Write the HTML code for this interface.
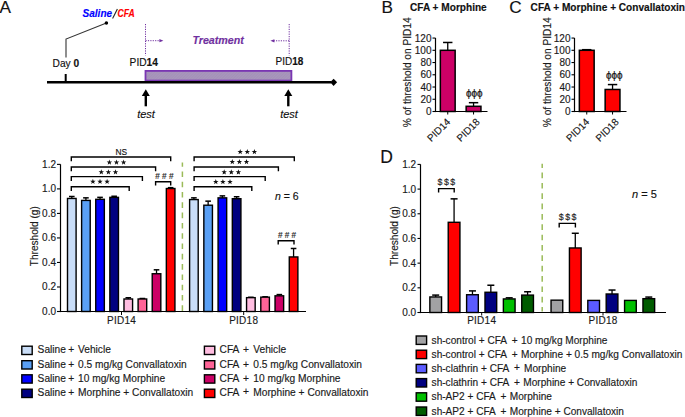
<!DOCTYPE html><html><head><meta charset="utf-8"><style>html,body{margin:0;padding:0;background:#fff;}svg{display:block;}</style></head><body><svg width="685" height="417" viewBox="0 0 685 417" font-family='"Liberation Sans", sans-serif'>
<defs><pattern id="hatch" width="2" height="2" patternUnits="userSpaceOnUse" patternTransform="rotate(45)"><rect width="2" height="2" fill="#a896bc"/><line x1="0" y1="0" x2="0" y2="2" stroke="#9d8bb3" stroke-width="0.8"/></pattern></defs>
<rect width="685" height="417" fill="#fff"/>
<text x="-0.6" y="12.9" font-size="17.2" text-anchor="start" font-weight="normal" font-style="normal" fill="#111" stroke="#111" stroke-width="0.15" >A</text>
<text x="82.6" y="16.9" font-size="10" font-weight="bold" font-style="italic" fill="#0000ff" stroke="#0000ff" stroke-width="0.15">Saline</text>
<line x1="112.6" y1="18.6" x2="117.4" y2="9.0" stroke="#222" stroke-width="1.1" />
<text x="117.6" y="16.9" font-size="10" font-weight="bold" font-style="italic" fill="#ff0000" textLength="17.2" lengthAdjust="spacingAndGlyphs" stroke="#ff0000" stroke-width="0.15">CFA</text>
<polyline points="66,57.6 66,39 106.4,23" fill="none" stroke="#333" stroke-width="1.1"/>
<circle cx="106.4" cy="23" r="1.75" fill="#000"/>
<text x="52.6" y="66.9" font-size="10.2" fill="#111" stroke="#111" stroke-width="0.15">Day <tspan font-weight="bold">0</tspan></text>
<rect x="145.5" y="70.9" width="145.9" height="9.7" fill="url(#hatch)" stroke="#7a36b2" stroke-width="1.8"/>
<line x1="47" y1="82.3" x2="331" y2="82.3" stroke="#000" stroke-width="2.4" />
<polygon points="330.1,82.3 333.6,78.7 337.1,82.3 333.6,85.9" fill="#000"/>
<line x1="65.7" y1="74" x2="65.7" y2="82" stroke="#000" stroke-width="2" />
<line x1="145.5" y1="24" x2="145.5" y2="55.5" stroke="#7030a0" stroke-width="1" stroke-dasharray="1.2 1.2"/>
<line x1="289.2" y1="24" x2="289.2" y2="55.5" stroke="#7030a0" stroke-width="1" stroke-dasharray="1.2 1.2"/>
<line x1="145.5" y1="40.7" x2="160" y2="40.7" stroke="#7030a0" stroke-width="1" stroke-dasharray="1.2 1.2"/>
<polygon points="159.4,39.1 163.4,40.7 159.4,42.3" fill="#7030a0"/>
<line x1="289.2" y1="40.8" x2="274" y2="40.8" stroke="#7030a0" stroke-width="1" stroke-dasharray="1.2 1.2"/>
<polygon points="274.4,39.2 270.4,40.8 274.4,42.4" fill="#7030a0"/>
<text x="192.4" y="44" font-size="10.7" text-anchor="start" font-weight="bold" font-style="italic" fill="#7030a0" stroke="#7030a0" stroke-width="0.15" >Treatment</text>
<text x="129.6" y="65.6" font-size="10.2" fill="#111" stroke="#111" stroke-width="0.15">PID<tspan font-weight="bold">14</tspan></text>
<text x="275.6" y="65.3" font-size="10" fill="#111" stroke="#111" stroke-width="0.15">PID<tspan font-weight="bold">18</tspan></text>
<line x1="145.8" y1="95" x2="145.8" y2="106.3" stroke="#000" stroke-width="2.4" />
<polygon points="141.8,96 145.8,89.2 149.8,96" fill="#000"/>
<line x1="288.3" y1="95" x2="288.3" y2="106.3" stroke="#000" stroke-width="2.4" />
<polygon points="284.3,96 288.3,89.2 292.3,96" fill="#000"/>
<text x="146" y="117.6" font-size="11" text-anchor="middle" font-weight="normal" font-style="italic" fill="#111" stroke="#111" stroke-width="0.15" >test</text>
<text x="289" y="118" font-size="11" text-anchor="middle" font-weight="normal" font-style="italic" fill="#111" stroke="#111" stroke-width="0.15" >test</text>
<line x1="60.5" y1="164.3" x2="60.5" y2="312.1" stroke="#000" stroke-width="1.2" />
<line x1="57" y1="311.5" x2="306" y2="311.5" stroke="#000" stroke-width="1.2" />
<line x1="57" y1="311.5" x2="60.5" y2="311.5" stroke="#000" stroke-width="1.1" />
<text x="56" y="315.0" font-size="10" text-anchor="end" font-weight="normal" font-style="normal" fill="#1a1a1a" stroke="#1a1a1a" stroke-width="0.15" >0.0</text>
<line x1="57" y1="286.98" x2="60.5" y2="286.98" stroke="#000" stroke-width="1.1" />
<text x="56" y="290.48" font-size="10" text-anchor="end" font-weight="normal" font-style="normal" fill="#1a1a1a" stroke="#1a1a1a" stroke-width="0.15" >0.2</text>
<line x1="57" y1="262.46" x2="60.5" y2="262.46" stroke="#000" stroke-width="1.1" />
<text x="56" y="265.96" font-size="10" text-anchor="end" font-weight="normal" font-style="normal" fill="#1a1a1a" stroke="#1a1a1a" stroke-width="0.15" >0.4</text>
<line x1="57" y1="237.94" x2="60.5" y2="237.94" stroke="#000" stroke-width="1.1" />
<text x="56" y="241.44" font-size="10" text-anchor="end" font-weight="normal" font-style="normal" fill="#1a1a1a" stroke="#1a1a1a" stroke-width="0.15" >0.6</text>
<line x1="57" y1="213.42000000000002" x2="60.5" y2="213.42000000000002" stroke="#000" stroke-width="1.1" />
<text x="56" y="216.92000000000002" font-size="10" text-anchor="end" font-weight="normal" font-style="normal" fill="#1a1a1a" stroke="#1a1a1a" stroke-width="0.15" >0.8</text>
<line x1="57" y1="188.9" x2="60.5" y2="188.9" stroke="#000" stroke-width="1.1" />
<text x="56" y="192.4" font-size="10" text-anchor="end" font-weight="normal" font-style="normal" fill="#1a1a1a" stroke="#1a1a1a" stroke-width="0.15" >1.0</text>
<line x1="57" y1="164.38" x2="60.5" y2="164.38" stroke="#000" stroke-width="1.1" />
<text x="56" y="167.88" font-size="10" text-anchor="end" font-weight="normal" font-style="normal" fill="#1a1a1a" stroke="#1a1a1a" stroke-width="0.15" >1.2</text>
<text transform="translate(37.7,236.2) rotate(-90)" font-size="10.1" text-anchor="middle" fill="#1a1a1a" stroke="#1a1a1a" stroke-width="0.15">Threshold (g)</text>
<line x1="121.5" y1="311.5" x2="121.5" y2="315" stroke="#000" stroke-width="1" />
<line x1="243.7" y1="311.5" x2="243.7" y2="315" stroke="#000" stroke-width="1" />
<text x="121.5" y="323.5" font-size="10" text-anchor="middle" font-weight="normal" font-style="normal" fill="#1a1a1a" stroke="#1a1a1a" stroke-width="0.15" letter-spacing="0.25">PID14</text>
<text x="243.7" y="323.5" font-size="10" text-anchor="middle" font-weight="normal" font-style="normal" fill="#1a1a1a" stroke="#1a1a1a" stroke-width="0.15" letter-spacing="0.25">PID18</text>
<line x1="71.80" y1="198.46" x2="71.80" y2="196.50" stroke="#000" stroke-width="1.3" />
<line x1="69.00" y1="196.50" x2="74.60" y2="196.50" stroke="#000" stroke-width="1.5" />
<rect x="67.50" y="198.46" width="8.60" height="113.04" fill="#c9ddf7" stroke="#000" stroke-width="1.4"/>
<line x1="85.92" y1="200.42" x2="85.92" y2="197.85" stroke="#000" stroke-width="1.3" />
<line x1="83.12" y1="197.85" x2="88.72" y2="197.85" stroke="#000" stroke-width="1.5" />
<rect x="81.62" y="200.42" width="8.60" height="111.08" fill="#5aa0f5" stroke="#000" stroke-width="1.4"/>
<line x1="100.04" y1="199.32" x2="100.04" y2="197.36" stroke="#000" stroke-width="1.3" />
<line x1="97.24" y1="197.36" x2="102.84" y2="197.36" stroke="#000" stroke-width="1.5" />
<rect x="95.74" y="199.32" width="8.60" height="112.18" fill="#0000ff" stroke="#000" stroke-width="1.4"/>
<line x1="114.16" y1="197.36" x2="114.16" y2="196.26" stroke="#000" stroke-width="1.3" />
<line x1="111.36" y1="196.26" x2="116.96" y2="196.26" stroke="#000" stroke-width="1.5" />
<rect x="109.86" y="197.36" width="8.60" height="114.14" fill="#000080" stroke="#000" stroke-width="1.4"/>
<line x1="128.28" y1="298.99" x2="128.28" y2="297.77" stroke="#000" stroke-width="1.3" />
<line x1="125.48" y1="297.77" x2="131.08" y2="297.77" stroke="#000" stroke-width="1.5" />
<rect x="123.98" y="298.99" width="8.60" height="12.51" fill="#ffbde0" stroke="#000" stroke-width="1.4"/>
<line x1="142.40" y1="298.99" x2="142.40" y2="298.50" stroke="#000" stroke-width="1.3" />
<line x1="139.60" y1="298.50" x2="145.20" y2="298.50" stroke="#000" stroke-width="1.5" />
<rect x="138.10" y="298.99" width="8.60" height="12.51" fill="#ff6497" stroke="#000" stroke-width="1.4"/>
<line x1="156.52" y1="273.74" x2="156.52" y2="269.82" stroke="#000" stroke-width="1.3" />
<line x1="153.72" y1="269.82" x2="159.32" y2="269.82" stroke="#000" stroke-width="1.5" />
<rect x="152.22" y="273.74" width="8.60" height="37.76" fill="#cc0066" stroke="#000" stroke-width="1.4"/>
<line x1="170.64" y1="188.53" x2="170.64" y2="187.67" stroke="#000" stroke-width="1.3" />
<line x1="167.84" y1="187.67" x2="173.44" y2="187.67" stroke="#000" stroke-width="1.5" />
<rect x="166.34" y="188.53" width="8.60" height="122.97" fill="#ff0000" stroke="#000" stroke-width="1.4"/>
<line x1="193.90" y1="199.57" x2="193.90" y2="197.85" stroke="#000" stroke-width="1.3" />
<line x1="191.10" y1="197.85" x2="196.70" y2="197.85" stroke="#000" stroke-width="1.5" />
<rect x="189.60" y="199.57" width="8.60" height="111.93" fill="#c9ddf7" stroke="#000" stroke-width="1.4"/>
<line x1="208.14" y1="205.21" x2="208.14" y2="201.16" stroke="#000" stroke-width="1.3" />
<line x1="205.34" y1="201.16" x2="210.94" y2="201.16" stroke="#000" stroke-width="1.5" />
<rect x="203.84" y="205.21" width="8.60" height="106.29" fill="#5aa0f5" stroke="#000" stroke-width="1.4"/>
<line x1="222.38" y1="197.85" x2="222.38" y2="195.89" stroke="#000" stroke-width="1.3" />
<line x1="219.58" y1="195.89" x2="225.18" y2="195.89" stroke="#000" stroke-width="1.5" />
<rect x="218.08" y="197.85" width="8.60" height="113.65" fill="#0000ff" stroke="#000" stroke-width="1.4"/>
<line x1="236.62" y1="198.71" x2="236.62" y2="196.75" stroke="#000" stroke-width="1.3" />
<line x1="233.82" y1="196.75" x2="239.42" y2="196.75" stroke="#000" stroke-width="1.5" />
<rect x="232.32" y="198.71" width="8.60" height="112.79" fill="#000080" stroke="#000" stroke-width="1.4"/>
<line x1="250.86" y1="297.65" x2="250.86" y2="297.28" stroke="#000" stroke-width="1.3" />
<line x1="248.06" y1="297.28" x2="253.66" y2="297.28" stroke="#000" stroke-width="1.5" />
<rect x="246.56" y="297.65" width="8.60" height="13.85" fill="#ffbde0" stroke="#000" stroke-width="1.4"/>
<line x1="265.10" y1="297.16" x2="265.10" y2="296.79" stroke="#000" stroke-width="1.3" />
<line x1="262.30" y1="296.79" x2="267.90" y2="296.79" stroke="#000" stroke-width="1.5" />
<rect x="260.80" y="297.16" width="8.60" height="14.34" fill="#ff6497" stroke="#000" stroke-width="1.4"/>
<line x1="279.34" y1="295.81" x2="279.34" y2="294.58" stroke="#000" stroke-width="1.3" />
<line x1="276.54" y1="294.58" x2="282.14" y2="294.58" stroke="#000" stroke-width="1.5" />
<rect x="275.04" y="295.81" width="8.60" height="15.69" fill="#cc0066" stroke="#000" stroke-width="1.4"/>
<line x1="293.58" y1="256.94" x2="293.58" y2="248.48" stroke="#000" stroke-width="1.3" />
<line x1="290.78" y1="248.48" x2="296.38" y2="248.48" stroke="#000" stroke-width="1.5" />
<rect x="289.28" y="256.94" width="8.60" height="54.56" fill="#ff0000" stroke="#000" stroke-width="1.4"/>
<line x1="182.4" y1="162.4" x2="182.4" y2="311.0" stroke="#9bbb59" stroke-width="1.5" stroke-dasharray="5.6 4.7" stroke-dashoffset="1.3"/>
<polyline points="71.30,161.30 71.30,157.00 170.70,157.00 170.70,161.30" fill="none" stroke="#000" stroke-width="1.4"/>
<polyline points="71.30,171.30 71.30,167.00 155.60,167.00 155.60,171.30" fill="none" stroke="#000" stroke-width="1.4"/>
<polyline points="71.30,180.90 71.30,176.60 142.40,176.60 142.40,180.90" fill="none" stroke="#000" stroke-width="1.4"/>
<polyline points="71.30,191.00 71.30,186.70 129.20,186.70 129.20,191.00" fill="none" stroke="#000" stroke-width="1.4"/>
<polyline points="194.10,161.30 194.10,157.00 294.30,157.00 294.30,161.30" fill="none" stroke="#000" stroke-width="1.4"/>
<polyline points="194.10,171.30 194.10,167.00 278.40,167.00 278.40,171.30" fill="none" stroke="#000" stroke-width="1.4"/>
<polyline points="194.10,180.90 194.10,176.60 265.20,176.60 265.20,180.90" fill="none" stroke="#000" stroke-width="1.4"/>
<polyline points="194.10,191.00 194.10,186.70 251.80,186.70 251.80,191.00" fill="none" stroke="#000" stroke-width="1.4"/>
<text x="121.2" y="154.5" font-size="9.2" text-anchor="middle" font-weight="normal" font-style="normal" fill="#111" stroke="#111" stroke-width="0.15" textLength="11.6" lengthAdjust="spacingAndGlyphs">NS</text>
<polygon points="109.40,159.55 110.10,161.43 112.11,161.52 110.54,162.77 111.08,164.71 109.40,163.60 107.72,164.71 108.26,162.77 106.69,161.52 108.70,161.43" fill="#111"/>
<polygon points="116.50,159.55 117.20,161.43 119.21,161.52 117.64,162.77 118.18,164.71 116.50,163.60 114.82,164.71 115.36,162.77 113.79,161.52 115.80,161.43" fill="#111"/>
<polygon points="123.60,159.55 124.30,161.43 126.31,161.52 124.74,162.77 125.28,164.71 123.60,163.60 121.92,164.71 122.46,162.77 120.89,161.52 122.90,161.43" fill="#111"/>
<polygon points="101.30,169.25 102.00,171.13 104.01,171.22 102.44,172.47 102.98,174.41 101.30,173.30 99.62,174.41 100.16,172.47 98.59,171.22 100.60,171.13" fill="#111"/>
<polygon points="108.40,169.25 109.10,171.13 111.11,171.22 109.54,172.47 110.08,174.41 108.40,173.30 106.72,174.41 107.26,172.47 105.69,171.22 107.70,171.13" fill="#111"/>
<polygon points="115.50,169.25 116.20,171.13 118.21,171.22 116.64,172.47 117.18,174.41 115.50,173.30 113.82,174.41 114.36,172.47 112.79,171.22 114.80,171.13" fill="#111"/>
<polygon points="92.90,178.75 93.60,180.63 95.61,180.72 94.04,181.97 94.58,183.91 92.90,182.80 91.22,183.91 91.76,181.97 90.19,180.72 92.20,180.63" fill="#111"/>
<polygon points="100.00,178.75 100.70,180.63 102.71,180.72 101.14,181.97 101.68,183.91 100.00,182.80 98.32,183.91 98.86,181.97 97.29,180.72 99.30,180.63" fill="#111"/>
<polygon points="107.10,178.75 107.80,180.63 109.81,180.72 108.24,181.97 108.78,183.91 107.10,182.80 105.42,183.91 105.96,181.97 104.39,180.72 106.40,180.63" fill="#111"/>
<polygon points="240.20,149.05 240.90,150.93 242.91,151.02 241.34,152.27 241.88,154.21 240.20,153.10 238.52,154.21 239.06,152.27 237.49,151.02 239.50,150.93" fill="#111"/>
<polygon points="247.30,149.05 248.00,150.93 250.01,151.02 248.44,152.27 248.98,154.21 247.30,153.10 245.62,154.21 246.16,152.27 244.59,151.02 246.60,150.93" fill="#111"/>
<polygon points="254.40,149.05 255.10,150.93 257.11,151.02 255.54,152.27 256.08,154.21 254.40,153.10 252.72,154.21 253.26,152.27 251.69,151.02 253.70,150.93" fill="#111"/>
<polygon points="232.30,159.05 233.00,160.93 235.01,161.02 233.44,162.27 233.98,164.21 232.30,163.10 230.62,164.21 231.16,162.27 229.59,161.02 231.60,160.93" fill="#111"/>
<polygon points="239.40,159.05 240.10,160.93 242.11,161.02 240.54,162.27 241.08,164.21 239.40,163.10 237.72,164.21 238.26,162.27 236.69,161.02 238.70,160.93" fill="#111"/>
<polygon points="246.50,159.05 247.20,160.93 249.21,161.02 247.64,162.27 248.18,164.21 246.50,163.10 244.82,164.21 245.36,162.27 243.79,161.02 245.80,160.93" fill="#111"/>
<polygon points="224.20,169.35 224.90,171.23 226.91,171.32 225.34,172.57 225.88,174.51 224.20,173.40 222.52,174.51 223.06,172.57 221.49,171.32 223.50,171.23" fill="#111"/>
<polygon points="231.30,169.35 232.00,171.23 234.01,171.32 232.44,172.57 232.98,174.51 231.30,173.40 229.62,174.51 230.16,172.57 228.59,171.32 230.60,171.23" fill="#111"/>
<polygon points="238.40,169.35 239.10,171.23 241.11,171.32 239.54,172.57 240.08,174.51 238.40,173.40 236.72,174.51 237.26,172.57 235.69,171.32 237.70,171.23" fill="#111"/>
<polygon points="215.80,179.05 216.50,180.93 218.51,181.02 216.94,182.27 217.48,184.21 215.80,183.10 214.12,184.21 214.66,182.27 213.09,181.02 215.10,180.93" fill="#111"/>
<polygon points="222.90,179.05 223.60,180.93 225.61,181.02 224.04,182.27 224.58,184.21 222.90,183.10 221.22,184.21 221.76,182.27 220.19,181.02 222.20,180.93" fill="#111"/>
<polygon points="230.00,179.05 230.70,180.93 232.71,181.02 231.14,182.27 231.68,184.21 230.00,183.10 228.32,184.21 228.86,182.27 227.29,181.02 229.30,180.93" fill="#111"/>
<polyline points="155.60,185.60 155.60,181.80 170.70,181.80 170.70,185.60" fill="none" stroke="#000" stroke-width="1.4"/>
<text x="164.4" y="178.9" font-size="8.2" text-anchor="middle" font-weight="normal" font-style="normal" fill="#222" stroke="#222" stroke-width="0.15" ># # #</text>
<polyline points="278.20,244.50 278.20,240.70 294.00,240.70 294.00,244.50" fill="none" stroke="#000" stroke-width="1.4"/>
<text x="287.0" y="237.8" font-size="8.2" text-anchor="middle" font-weight="normal" font-style="normal" fill="#222" stroke="#222" stroke-width="0.15" ># # #</text>
<text x="275" y="199.8" font-size="10.5" fill="#111" stroke="#111" stroke-width="0.15"><tspan font-style="italic">n</tspan> = 6</text>
<rect x="21.80" y="346.20" width="10.40" height="8.30" fill="#c9ddf7" stroke="#000" stroke-width="1.4"/>
<text x="37.6" y="353.4" font-size="10.2" fill="#1a1a1a" stroke="#1a1a1a" stroke-width="0.15">Saline <tspan dx="-0.45">+</tspan> <tspan dx="0.9">Vehicle</tspan></text>
<rect x="204.40" y="346.20" width="10.40" height="8.30" fill="#ffbde0" stroke="#000" stroke-width="1.4"/>
<text x="219.6" y="353.4" font-size="10.2" fill="#1a1a1a" stroke="#1a1a1a" stroke-width="0.15">CFA <tspan dx="1.4">+</tspan> <tspan dx="1.4">Vehicle</tspan></text>
<rect x="21.80" y="360.70" width="10.40" height="8.30" fill="#5aa0f5" stroke="#000" stroke-width="1.4"/>
<text x="37.6" y="367.9" font-size="10.2" fill="#1a1a1a" stroke="#1a1a1a" stroke-width="0.15">Saline <tspan dx="-0.45">+</tspan> <tspan dx="0.9">0.5 mg/kg Convallatoxin</tspan></text>
<rect x="204.40" y="360.70" width="10.40" height="8.30" fill="#ff6497" stroke="#000" stroke-width="1.4"/>
<text x="219.6" y="367.9" font-size="10.2" fill="#1a1a1a" stroke="#1a1a1a" stroke-width="0.15">CFA <tspan dx="1.4">+</tspan> <tspan dx="1.4">0.5 mg/kg Convallatoxin</tspan></text>
<rect x="21.80" y="374.80" width="10.40" height="8.30" fill="#0000ff" stroke="#000" stroke-width="1.4"/>
<text x="37.6" y="382.0" font-size="10.2" fill="#1a1a1a" stroke="#1a1a1a" stroke-width="0.15">Saline <tspan dx="-0.45">+</tspan> <tspan dx="0.9">10 mg/kg Morphine</tspan></text>
<rect x="204.40" y="374.80" width="10.40" height="8.30" fill="#cc0066" stroke="#000" stroke-width="1.4"/>
<text x="219.6" y="382.0" font-size="10.2" fill="#1a1a1a" stroke="#1a1a1a" stroke-width="0.15">CFA <tspan dx="1.4">+</tspan> <tspan dx="1.4">10 mg/kg Morphine</tspan></text>
<rect x="21.80" y="389.20" width="10.40" height="8.30" fill="#000080" stroke="#000" stroke-width="1.4"/>
<text x="37.6" y="396.4" font-size="10.2" fill="#1a1a1a" stroke="#1a1a1a" stroke-width="0.15">Saline <tspan dx="-0.45">+</tspan> <tspan dx="0.9">Morphine + Convallatoxin</tspan></text>
<rect x="204.40" y="389.20" width="10.40" height="8.30" fill="#ff0000" stroke="#000" stroke-width="1.4"/>
<text x="219.6" y="396.4" font-size="10.2" fill="#1a1a1a" stroke="#1a1a1a" stroke-width="0.15">CFA <tspan dx="1.4" dy="-1">+</tspan> <tspan dx="1.4" dy="1">Morphine</tspan> + Convallatoxin</text>
<text x="381.6" y="12.9" font-size="17.2" text-anchor="start" font-weight="normal" font-style="normal" fill="#111" stroke="#111" stroke-width="0.15" >B</text>
<text x="410" y="11.2" font-size="10.1" text-anchor="start" font-weight="bold" font-style="normal" fill="#111" stroke="#111" stroke-width="0.15" >CFA + Morphine</text>
<line x1="435.5" y1="38" x2="435.5" y2="112.1" stroke="#000" stroke-width="1.2" />
<line x1="433.0" y1="111.5" x2="487.5" y2="111.5" stroke="#000" stroke-width="1.2" />
<line x1="432.5" y1="111.5" x2="435.5" y2="111.5" stroke="#000" stroke-width="1.1" />
<text x="431.5" y="115.0" font-size="10" text-anchor="end" font-weight="normal" font-style="normal" fill="#1a1a1a" stroke="#1a1a1a" stroke-width="0.15" >0</text>
<line x1="432.5" y1="99.26" x2="435.5" y2="99.26" stroke="#000" stroke-width="1.1" />
<text x="431.5" y="102.76" font-size="10" text-anchor="end" font-weight="normal" font-style="normal" fill="#1a1a1a" stroke="#1a1a1a" stroke-width="0.15" >20</text>
<line x1="432.5" y1="87.02" x2="435.5" y2="87.02" stroke="#000" stroke-width="1.1" />
<text x="431.5" y="90.52" font-size="10" text-anchor="end" font-weight="normal" font-style="normal" fill="#1a1a1a" stroke="#1a1a1a" stroke-width="0.15" >40</text>
<line x1="432.5" y1="74.78" x2="435.5" y2="74.78" stroke="#000" stroke-width="1.1" />
<text x="431.5" y="78.28" font-size="10" text-anchor="end" font-weight="normal" font-style="normal" fill="#1a1a1a" stroke="#1a1a1a" stroke-width="0.15" >60</text>
<line x1="432.5" y1="62.54" x2="435.5" y2="62.54" stroke="#000" stroke-width="1.1" />
<text x="431.5" y="66.03999999999999" font-size="10" text-anchor="end" font-weight="normal" font-style="normal" fill="#1a1a1a" stroke="#1a1a1a" stroke-width="0.15" >80</text>
<line x1="432.5" y1="50.300000000000004" x2="435.5" y2="50.300000000000004" stroke="#000" stroke-width="1.1" />
<text x="431.5" y="53.800000000000004" font-size="10" text-anchor="end" font-weight="normal" font-style="normal" fill="#1a1a1a" stroke="#1a1a1a" stroke-width="0.15" >100</text>
<line x1="432.5" y1="38.06" x2="435.5" y2="38.06" stroke="#000" stroke-width="1.1" />
<text x="431.5" y="41.56" font-size="10" text-anchor="end" font-weight="normal" font-style="normal" fill="#1a1a1a" stroke="#1a1a1a" stroke-width="0.15" >120</text>
<line x1="447.75" y1="50.30" x2="447.75" y2="42.47" stroke="#000" stroke-width="1.3" />
<line x1="443.05" y1="42.47" x2="452.45" y2="42.47" stroke="#000" stroke-width="1.5" />
<rect x="440.35" y="50.30" width="14.80" height="61.20" fill="#cc0066" stroke="#000" stroke-width="1.5"/>
<line x1="473.55" y1="106.30" x2="473.55" y2="102.69" stroke="#000" stroke-width="1.3" />
<line x1="468.85" y1="102.69" x2="478.25" y2="102.69" stroke="#000" stroke-width="1.5" />
<rect x="466.15" y="106.30" width="14.80" height="5.20" fill="#cc0066" stroke="#000" stroke-width="1.5"/>
<line x1="447.75" y1="111.5" x2="447.75" y2="114.5" stroke="#000" stroke-width="1" />
<line x1="473.54999999999995" y1="111.5" x2="473.54999999999995" y2="114.5" stroke="#000" stroke-width="1" />
<text x="474.3" y="97.3" font-size="10" text-anchor="middle" font-weight="normal" font-style="normal" fill="#111" stroke="#111" stroke-width="0.15" >ϕϕϕ</text>
<text transform="translate(451.00,122.6) rotate(-45)" font-size="10" text-anchor="end" fill="#1a1a1a" stroke="#1a1a1a" stroke-width="0.15">PID14</text>
<text transform="translate(480.45,122.6) rotate(-45)" font-size="10" text-anchor="end" fill="#1a1a1a" stroke="#1a1a1a" stroke-width="0.15">PID18</text>
<text transform="translate(411.4,72.3) rotate(-90)" font-size="10.15" text-anchor="middle" fill="#1a1a1a" stroke="#1a1a1a" stroke-width="0.15">% of threshold on PID14</text>
<text x="509.2" y="12.9" font-size="17.2" text-anchor="start" font-weight="normal" font-style="normal" fill="#111" stroke="#111" stroke-width="0.15" >C</text>
<text x="530.6" y="11.2" font-size="10.1" text-anchor="start" font-weight="bold" font-style="normal" fill="#111" stroke="#111" stroke-width="0.15" >CFA + Morphine + Convallatoxin</text>
<line x1="574.5" y1="38" x2="574.5" y2="112.1" stroke="#000" stroke-width="1.2" />
<line x1="572.0" y1="111.5" x2="626.5" y2="111.5" stroke="#000" stroke-width="1.2" />
<line x1="571.5" y1="111.5" x2="574.5" y2="111.5" stroke="#000" stroke-width="1.1" />
<text x="570.5" y="115.0" font-size="10" text-anchor="end" font-weight="normal" font-style="normal" fill="#1a1a1a" stroke="#1a1a1a" stroke-width="0.15" >0</text>
<line x1="571.5" y1="99.26" x2="574.5" y2="99.26" stroke="#000" stroke-width="1.1" />
<text x="570.5" y="102.76" font-size="10" text-anchor="end" font-weight="normal" font-style="normal" fill="#1a1a1a" stroke="#1a1a1a" stroke-width="0.15" >20</text>
<line x1="571.5" y1="87.02" x2="574.5" y2="87.02" stroke="#000" stroke-width="1.1" />
<text x="570.5" y="90.52" font-size="10" text-anchor="end" font-weight="normal" font-style="normal" fill="#1a1a1a" stroke="#1a1a1a" stroke-width="0.15" >40</text>
<line x1="571.5" y1="74.78" x2="574.5" y2="74.78" stroke="#000" stroke-width="1.1" />
<text x="570.5" y="78.28" font-size="10" text-anchor="end" font-weight="normal" font-style="normal" fill="#1a1a1a" stroke="#1a1a1a" stroke-width="0.15" >60</text>
<line x1="571.5" y1="62.54" x2="574.5" y2="62.54" stroke="#000" stroke-width="1.1" />
<text x="570.5" y="66.03999999999999" font-size="10" text-anchor="end" font-weight="normal" font-style="normal" fill="#1a1a1a" stroke="#1a1a1a" stroke-width="0.15" >80</text>
<line x1="571.5" y1="50.300000000000004" x2="574.5" y2="50.300000000000004" stroke="#000" stroke-width="1.1" />
<text x="570.5" y="53.800000000000004" font-size="10" text-anchor="end" font-weight="normal" font-style="normal" fill="#1a1a1a" stroke="#1a1a1a" stroke-width="0.15" >100</text>
<line x1="571.5" y1="38.06" x2="574.5" y2="38.06" stroke="#000" stroke-width="1.1" />
<text x="570.5" y="41.56" font-size="10" text-anchor="end" font-weight="normal" font-style="normal" fill="#1a1a1a" stroke="#1a1a1a" stroke-width="0.15" >120</text>
<line x1="586.75" y1="50.30" x2="586.75" y2="49.69" stroke="#000" stroke-width="1.3" />
<line x1="582.05" y1="49.69" x2="591.45" y2="49.69" stroke="#000" stroke-width="1.5" />
<rect x="579.35" y="50.30" width="14.80" height="61.20" fill="#ff0000" stroke="#000" stroke-width="1.5"/>
<line x1="612.55" y1="89.47" x2="612.55" y2="84.57" stroke="#000" stroke-width="1.3" />
<line x1="607.85" y1="84.57" x2="617.25" y2="84.57" stroke="#000" stroke-width="1.5" />
<rect x="605.15" y="89.47" width="14.80" height="22.03" fill="#ff0000" stroke="#000" stroke-width="1.5"/>
<line x1="586.75" y1="111.5" x2="586.75" y2="114.5" stroke="#000" stroke-width="1" />
<line x1="612.55" y1="111.5" x2="612.55" y2="114.5" stroke="#000" stroke-width="1" />
<text x="614.3" y="78.8" font-size="10" text-anchor="middle" font-weight="normal" font-style="normal" fill="#111" stroke="#111" stroke-width="0.15" >ϕϕϕ</text>
<text transform="translate(590.00,122.6) rotate(-45)" font-size="10" text-anchor="end" fill="#1a1a1a" stroke="#1a1a1a" stroke-width="0.15">PID14</text>
<text transform="translate(619.45,122.6) rotate(-45)" font-size="10" text-anchor="end" fill="#1a1a1a" stroke="#1a1a1a" stroke-width="0.15">PID18</text>
<text transform="translate(550.6,72.3) rotate(-90)" font-size="10.15" text-anchor="middle" fill="#1a1a1a" stroke="#1a1a1a" stroke-width="0.15">% of threshold on PID14</text>
<text x="380.2" y="162.7" font-size="17.5" text-anchor="start" font-weight="normal" font-style="normal" fill="#111" stroke="#111" stroke-width="0.15" >D</text>
<line x1="420.5" y1="164.3" x2="420.5" y2="313.1" stroke="#000" stroke-width="1.2" />
<line x1="417.8" y1="312.5" x2="666" y2="312.5" stroke="#000" stroke-width="1.2" />
<line x1="417.5" y1="312.5" x2="420.5" y2="312.5" stroke="#000" stroke-width="1.1" />
<text x="416.2" y="316.0" font-size="10" text-anchor="end" font-weight="normal" font-style="normal" fill="#1a1a1a" stroke="#1a1a1a" stroke-width="0.15" >0.0</text>
<line x1="417.5" y1="287.82" x2="420.5" y2="287.82" stroke="#000" stroke-width="1.1" />
<text x="416.2" y="291.32" font-size="10" text-anchor="end" font-weight="normal" font-style="normal" fill="#1a1a1a" stroke="#1a1a1a" stroke-width="0.15" >0.2</text>
<line x1="417.5" y1="263.14" x2="420.5" y2="263.14" stroke="#000" stroke-width="1.1" />
<text x="416.2" y="266.64" font-size="10" text-anchor="end" font-weight="normal" font-style="normal" fill="#1a1a1a" stroke="#1a1a1a" stroke-width="0.15" >0.4</text>
<line x1="417.5" y1="238.45999999999998" x2="420.5" y2="238.45999999999998" stroke="#000" stroke-width="1.1" />
<text x="416.2" y="241.95999999999998" font-size="10" text-anchor="end" font-weight="normal" font-style="normal" fill="#1a1a1a" stroke="#1a1a1a" stroke-width="0.15" >0.6</text>
<line x1="417.5" y1="213.77999999999997" x2="420.5" y2="213.77999999999997" stroke="#000" stroke-width="1.1" />
<text x="416.2" y="217.27999999999997" font-size="10" text-anchor="end" font-weight="normal" font-style="normal" fill="#1a1a1a" stroke="#1a1a1a" stroke-width="0.15" >0.8</text>
<line x1="417.5" y1="189.1" x2="420.5" y2="189.1" stroke="#000" stroke-width="1.1" />
<text x="416.2" y="192.6" font-size="10" text-anchor="end" font-weight="normal" font-style="normal" fill="#1a1a1a" stroke="#1a1a1a" stroke-width="0.15" >1.0</text>
<line x1="417.5" y1="164.41999999999996" x2="420.5" y2="164.41999999999996" stroke="#000" stroke-width="1.1" />
<text x="416.2" y="167.91999999999996" font-size="10" text-anchor="end" font-weight="normal" font-style="normal" fill="#1a1a1a" stroke="#1a1a1a" stroke-width="0.15" >1.2</text>
<text transform="translate(398.2,236.0) rotate(-90)" font-size="10.05" text-anchor="middle" fill="#1a1a1a" stroke="#1a1a1a" stroke-width="0.15">Threshold (g)</text>
<line x1="435.70" y1="296.95" x2="435.70" y2="295.10" stroke="#000" stroke-width="1.3" />
<line x1="432.20" y1="295.10" x2="439.20" y2="295.10" stroke="#000" stroke-width="1.5" />
<rect x="429.85" y="296.95" width="11.70" height="15.55" fill="#a2a2a4" stroke="#000" stroke-width="1.4"/>
<line x1="454.08" y1="222.29" x2="454.08" y2="198.85" stroke="#000" stroke-width="1.3" />
<line x1="450.58" y1="198.85" x2="457.58" y2="198.85" stroke="#000" stroke-width="1.5" />
<rect x="448.23" y="222.29" width="11.70" height="90.21" fill="#ff0000" stroke="#000" stroke-width="1.4"/>
<line x1="472.46" y1="294.73" x2="472.46" y2="290.90" stroke="#000" stroke-width="1.3" />
<line x1="468.96" y1="290.90" x2="475.96" y2="290.90" stroke="#000" stroke-width="1.5" />
<rect x="466.61" y="294.73" width="11.70" height="17.77" fill="#5b5bff" stroke="#000" stroke-width="1.4"/>
<line x1="490.84" y1="292.26" x2="490.84" y2="285.23" stroke="#000" stroke-width="1.3" />
<line x1="487.34" y1="285.23" x2="494.34" y2="285.23" stroke="#000" stroke-width="1.5" />
<rect x="484.99" y="292.26" width="11.70" height="20.24" fill="#000080" stroke="#000" stroke-width="1.4"/>
<line x1="509.22" y1="298.93" x2="509.22" y2="297.82" stroke="#000" stroke-width="1.3" />
<line x1="505.72" y1="297.82" x2="512.72" y2="297.82" stroke="#000" stroke-width="1.5" />
<rect x="503.37" y="298.93" width="11.70" height="13.57" fill="#00c000" stroke="#000" stroke-width="1.4"/>
<line x1="527.60" y1="295.10" x2="527.60" y2="291.77" stroke="#000" stroke-width="1.3" />
<line x1="524.10" y1="291.77" x2="531.10" y2="291.77" stroke="#000" stroke-width="1.5" />
<rect x="521.75" y="295.10" width="11.70" height="17.40" fill="#005c00" stroke="#000" stroke-width="1.4"/>
<rect x="551.05" y="300.16" width="11.70" height="12.34" fill="#a2a2a4" stroke="#000" stroke-width="1.4"/>
<line x1="575.28" y1="247.96" x2="575.28" y2="233.28" stroke="#000" stroke-width="1.3" />
<line x1="571.78" y1="233.28" x2="578.78" y2="233.28" stroke="#000" stroke-width="1.5" />
<rect x="569.43" y="247.96" width="11.70" height="64.54" fill="#ff0000" stroke="#000" stroke-width="1.4"/>
<rect x="587.81" y="300.41" width="11.70" height="12.09" fill="#5b5bff" stroke="#000" stroke-width="1.4"/>
<line x1="612.04" y1="293.99" x2="612.04" y2="290.04" stroke="#000" stroke-width="1.3" />
<line x1="608.54" y1="290.04" x2="615.54" y2="290.04" stroke="#000" stroke-width="1.5" />
<rect x="606.19" y="293.99" width="11.70" height="18.51" fill="#000080" stroke="#000" stroke-width="1.4"/>
<rect x="624.57" y="300.41" width="11.70" height="12.09" fill="#00c000" stroke="#000" stroke-width="1.4"/>
<line x1="648.80" y1="298.68" x2="648.80" y2="297.07" stroke="#000" stroke-width="1.3" />
<line x1="645.30" y1="297.07" x2="652.30" y2="297.07" stroke="#000" stroke-width="1.5" />
<rect x="642.95" y="298.68" width="11.70" height="13.82" fill="#005c00" stroke="#000" stroke-width="1.4"/>
<line x1="542.2" y1="163.8" x2="542.2" y2="311.5" stroke="#9bbb59" stroke-width="1.5" stroke-dasharray="5.7 4.65" stroke-dashoffset="1.6"/>
<line x1="481.7" y1="312.5" x2="481.7" y2="315.5" stroke="#000" stroke-width="1" />
<line x1="603" y1="312.5" x2="603" y2="315.5" stroke="#000" stroke-width="1" />
<text x="481.7" y="324" font-size="10" text-anchor="middle" font-weight="normal" font-style="normal" fill="#1a1a1a" stroke="#1a1a1a" stroke-width="0.15" letter-spacing="0.25">PID14</text>
<text x="603" y="324" font-size="10" text-anchor="middle" font-weight="normal" font-style="normal" fill="#1a1a1a" stroke="#1a1a1a" stroke-width="0.15" letter-spacing="0.25">PID18</text>
<polyline points="438.60,192.60 438.60,188.60 454.20,188.60 454.20,192.60" fill="none" stroke="#000" stroke-width="1.4"/>
<text x="446.4" y="184.9" font-size="8.8" text-anchor="middle" font-weight="normal" font-style="normal" fill="#222" stroke="#222" stroke-width="0.15" textLength="17.6" lengthAdjust="spacing">$ $ $</text>
<polyline points="559.20,227.40 559.20,223.40 575.40,223.40 575.40,227.40" fill="none" stroke="#000" stroke-width="1.4"/>
<text x="567.6" y="219.5" font-size="8.8" text-anchor="middle" font-weight="normal" font-style="normal" fill="#222" stroke="#222" stroke-width="0.15" textLength="17.6" lengthAdjust="spacing">$ $ $</text>
<text x="632" y="198.4" font-size="11" fill="#111" stroke="#111" stroke-width="0.15"><tspan font-style="italic">n</tspan> = 5</text>
<rect x="416.20" y="336.00" width="10.40" height="8.40" fill="#a2a2a4" stroke="#000" stroke-width="1.4"/>
<text x="431.6" y="343.6" font-size="10.1" fill="#1a1a1a" stroke="#1a1a1a" stroke-width="0.15">sh-control + CFA <tspan dx="2.4">+</tspan> <tspan dx="0.6">10 mg/kg Morphine</tspan></text>
<rect x="416.20" y="350.20" width="10.40" height="8.40" fill="#ff0000" stroke="#000" stroke-width="1.4"/>
<text x="431.6" y="357.8" font-size="10.1" fill="#1a1a1a" stroke="#1a1a1a" stroke-width="0.15">sh-control + CFA <tspan dx="2.4">+</tspan> <tspan dx="0.6">Morphine + 0.5 mg/kg Convallatoxin</tspan></text>
<rect x="416.20" y="364.40" width="10.40" height="8.40" fill="#5b5bff" stroke="#000" stroke-width="1.4"/>
<text x="431.6" y="372.0" font-size="10.1" fill="#1a1a1a" stroke="#1a1a1a" stroke-width="0.15">sh-clathrin + CFA <tspan dx="2.4" dy="-1">+</tspan> <tspan dx="1.4" dy="1">Morphine</tspan></text>
<rect x="416.20" y="378.60" width="10.40" height="8.40" fill="#000080" stroke="#000" stroke-width="1.4"/>
<text x="431.6" y="386.2" font-size="10.1" fill="#1a1a1a" stroke="#1a1a1a" stroke-width="0.15">sh-clathrin + CFA <tspan dx="2.4">+</tspan> <tspan dx="0.6">Morphine + Convallatoxin</tspan></text>
<rect x="416.20" y="392.80" width="10.40" height="8.40" fill="#00c000" stroke="#000" stroke-width="1.4"/>
<text x="431.6" y="400.4" font-size="10.1" fill="#1a1a1a" stroke="#1a1a1a" stroke-width="0.15">sh-AP2 + CFA <tspan dx="2.4">+</tspan> <tspan dx="0.6">Morphine</tspan></text>
<rect x="416.20" y="407.00" width="10.40" height="8.40" fill="#005c00" stroke="#000" stroke-width="1.4"/>
<text x="431.6" y="414.6" font-size="10.1" fill="#1a1a1a" stroke="#1a1a1a" stroke-width="0.15">sh-AP2 + CFA <tspan dx="2.4">+</tspan> <tspan dx="0.6">Morphine + Convallatoxin</tspan></text>
</svg></body></html>
